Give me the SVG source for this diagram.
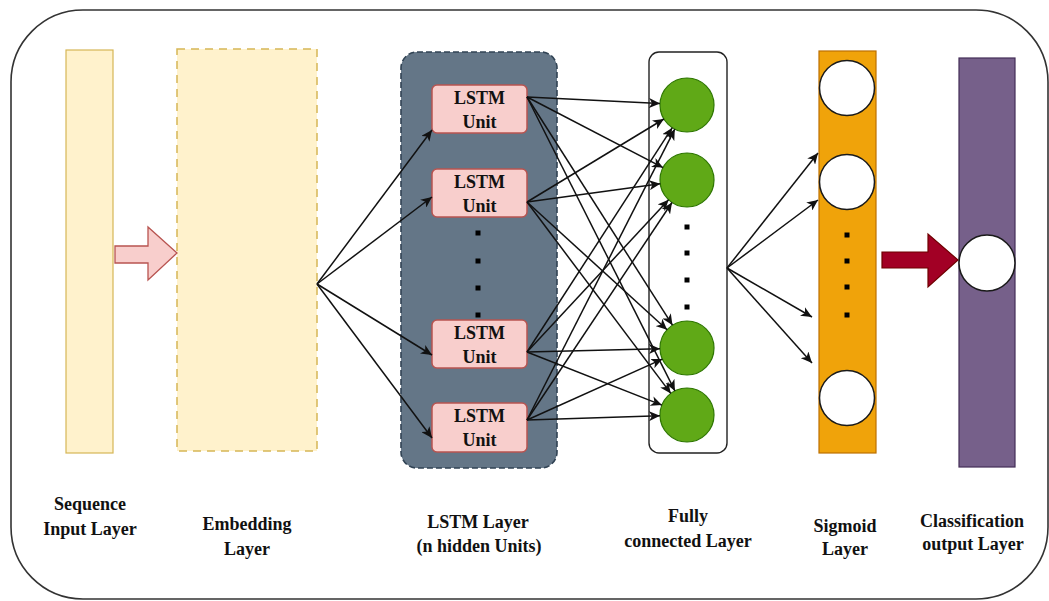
<svg xmlns="http://www.w3.org/2000/svg" width="1049" height="601" viewBox="0 0 1049 601">
<style>
  .lbl{font-family:"Liberation Serif","Times New Roman",serif;font-weight:bold;font-size:18px;fill:#111111;text-anchor:middle}
  .ulbl{font-family:"Liberation Serif","Times New Roman",serif;font-weight:bold;font-size:18px;fill:#111111;text-anchor:middle}
  .unit{fill:#f8cecc;stroke:#b85450;stroke-width:1.5}
  .green{fill:#60a917;stroke:#2d7600;stroke-width:1.2}
  .wcirc{fill:#ffffff;stroke:#1a1a1a;stroke-width:1.5}
  .dot{fill:#000000}
  .edge{stroke:#111111;stroke-width:1.5;fill:none;marker-end:url(#arr)}
</style>
<defs>
  <marker id="arr" markerUnits="userSpaceOnUse" markerWidth="12" markerHeight="10" refX="11" refY="5" orient="auto">
    <path d="M0,0 L11,5 L0,10 L3,5 z" fill="#111111"/>
  </marker>
</defs>
<rect x="0" y="0" width="1049" height="601" fill="#ffffff"/>
<g id="frame">
  <rect x="11" y="10" width="1037" height="589" rx="72" ry="72" fill="#ffffff" stroke="#333333" stroke-width="1.6"/>
</g>

<g id="sequence-input">
  <rect x="66" y="50" width="47" height="403" fill="#fff2cc" stroke="#d6b656" stroke-width="1.2"/>
  <text class="lbl" x="90" y="510">Sequence</text>
  <text class="lbl" x="90" y="535">Input Layer</text>
</g>

<g id="embedding">
  <rect x="177" y="49" width="140" height="402" fill="#fff2cc" stroke="#d6b656" stroke-width="1.5" stroke-dasharray="8 6"/>
  <text class="lbl" x="247" y="530">Embedding</text>
  <text class="lbl" x="247" y="555">Layer</text>
</g>

<g id="lstm-layer">
  <rect x="401" y="52" width="156" height="416" rx="16" ry="16" fill="#647687" stroke="#314354" stroke-width="1.6" stroke-dasharray="6 3"/>
  <rect class="dot" x="475.5" y="230.5" width="5" height="5"/>
  <rect class="dot" x="475.5" y="258.5" width="5" height="5"/>
  <rect class="dot" x="475.5" y="285.5" width="5" height="5"/>
  <rect class="dot" x="475.5" y="312.5" width="5" height="5"/>
  <text class="lbl" x="478" y="528">LSTM Layer</text>
  <text class="lbl" x="479" y="552">(n hidden Units)</text>
</g>
<g id="lstm-unit-1">
  <rect class="unit" x="432" y="85" width="95" height="48" rx="5" ry="5"/>
  <text class="ulbl" x="479.5" y="104">LSTM</text>
  <text class="ulbl" x="479.5" y="128">Unit</text>
</g>
<g id="lstm-unit-2">
  <rect class="unit" x="432" y="169" width="95" height="48" rx="5" ry="5"/>
  <text class="ulbl" x="479.5" y="188">LSTM</text>
  <text class="ulbl" x="479.5" y="212">Unit</text>
</g>
<g id="lstm-unit-3">
  <rect class="unit" x="432" y="320" width="95" height="48" rx="5" ry="5"/>
  <text class="ulbl" x="479.5" y="339">LSTM</text>
  <text class="ulbl" x="479.5" y="363">Unit</text>
</g>
<g id="lstm-unit-4">
  <rect class="unit" x="432" y="403" width="95" height="49" rx="5" ry="5"/>
  <text class="ulbl" x="479.5" y="422">LSTM</text>
  <text class="ulbl" x="479.5" y="446">Unit</text>
</g>

<g id="fully-connected">
  <rect x="649" y="52" width="78" height="401" rx="10" ry="10" fill="#ffffff" stroke="#222222" stroke-width="1.4"/>
  <circle class="green" cx="687" cy="105" r="27"/>
  <circle class="green" cx="687" cy="180" r="27"/>
  <circle class="green" cx="687" cy="348" r="27"/>
  <circle class="green" cx="687" cy="415" r="27"/>
  <rect class="dot" x="684.5" y="224.5" width="5" height="5"/>
  <rect class="dot" x="684.5" y="250.5" width="5" height="5"/>
  <rect class="dot" x="684.5" y="277.5" width="5" height="5"/>
  <rect class="dot" x="684.5" y="304.5" width="5" height="5"/>
  <text class="lbl" x="688" y="522">Fully</text>
  <text class="lbl" x="688" y="547">connected Layer</text>
</g>

<g id="sigmoid">
  <rect x="819" y="51" width="57" height="402" fill="#f0a30a" stroke="#bd7000" stroke-width="1.2"/>
  <circle class="wcirc" cx="847" cy="88" r="27.5"/>
  <circle class="wcirc" cx="847" cy="182" r="27.5"/>
  <circle class="wcirc" cx="847" cy="398" r="27.5"/>
  <rect class="dot" x="844.5" y="232.5" width="5" height="5"/>
  <rect class="dot" x="844.5" y="258.5" width="5" height="5"/>
  <rect class="dot" x="844.5" y="284.5" width="5" height="5"/>
  <rect class="dot" x="844.5" y="312.5" width="5" height="5"/>
  <text class="lbl" x="845" y="532">Sigmoid</text>
  <text class="lbl" x="845" y="555">Layer</text>
</g>

<g id="classification-output">
  <rect x="959" y="58" width="56" height="409" fill="#76608a" stroke="#432d57" stroke-width="1.2"/>
  <circle class="wcirc" cx="987" cy="263" r="28"/>
  <text class="lbl" x="972" y="527">Classification</text>
  <text class="lbl" x="973" y="550">output Layer</text>
</g>

<g id="connectors">
  <path d="M115,246 L148,246 L148,227 L177,253 L148,280 L148,263 L115,263 Z" fill="#f8cecc" stroke="#b85450" stroke-width="1.3"/>
  <path d="M882,252 L928,252 L928,234 L958,260 L928,287 L928,268 L882,268 Z" fill="#a20025" stroke="#6f0000" stroke-width="1.2"/>
  <line class="edge" x1="317" y1="284" x2="432" y2="130"/>
  <line class="edge" x1="317" y1="284" x2="432" y2="197"/>
  <line class="edge" x1="317" y1="284" x2="432" y2="355"/>
  <line class="edge" x1="317" y1="284" x2="432" y2="438"/>
  <line class="edge" x1="527" y1="97" x2="660" y2="103.6"/>
  <line class="edge" x1="527" y1="97" x2="663" y2="167.6"/>
  <line class="edge" x1="527" y1="97" x2="672.5" y2="325.2"/>
  <line class="edge" x1="527" y1="97" x2="674.9" y2="390.9"/>
  <line class="edge" x1="527" y1="202" x2="663.9" y2="119"/>
  <line class="edge" x1="527" y1="202" x2="660.3" y2="183.7"/>
  <line class="edge" x1="527" y1="202" x2="667.1" y2="329.8"/>
  <line class="edge" x1="527" y1="202" x2="670.8" y2="393.4"/>
  <line class="edge" x1="527" y1="352" x2="672.3" y2="127.7"/>
  <line class="edge" x1="527" y1="352" x2="668.6" y2="199.8"/>
  <line class="edge" x1="527" y1="352" x2="660" y2="348.7"/>
  <line class="edge" x1="527" y1="352" x2="661.9" y2="405.1"/>
  <line class="edge" x1="527" y1="420" x2="674.8" y2="129.1"/>
  <line class="edge" x1="527" y1="420" x2="672" y2="202.5"/>
  <line class="edge" x1="527" y1="420" x2="662.4" y2="359.1"/>
  <line class="edge" x1="527" y1="420" x2="660" y2="415.8"/>
  <line class="edge" x1="727" y1="268" x2="818" y2="153"/>
  <line class="edge" x1="727" y1="268" x2="818" y2="200"/>
  <line class="edge" x1="727" y1="268" x2="812" y2="317"/>
  <line class="edge" x1="727" y1="268" x2="812" y2="363"/>
</g>
</svg>
